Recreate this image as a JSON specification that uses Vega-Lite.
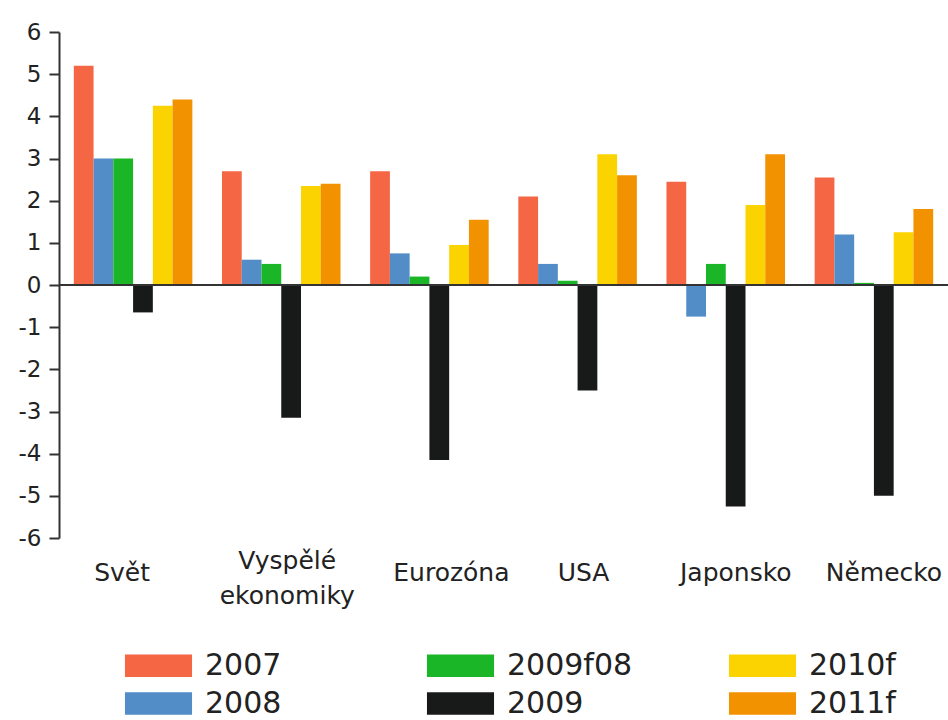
{
  "$schema": "https://vega.github.io/schema/vega-lite/v6.json",
  "width": 889,
  "height": 506,
  "autosize": {"type": "none"},
  "padding": {"left": 59, "top": 32, "right": 0, "bottom": 182},
  "background": "white",
  "config": {"view": {"stroke": null}, "font": "DejaVu Sans"},
  "data": {
    "values": [
      {"region": "Svět", "year": "2007", "value": 5.2},
      {"region": "Svět", "year": "2008", "value": 3.0},
      {"region": "Svět", "year": "2009f08", "value": 3.0},
      {"region": "Svět", "year": "2009", "value": -0.65},
      {"region": "Svět", "year": "2010f", "value": 4.25},
      {"region": "Svět", "year": "2011f", "value": 4.4},
      {"region": "Vyspělé ekonomiky", "year": "2007", "value": 2.7},
      {"region": "Vyspělé ekonomiky", "year": "2008", "value": 0.6},
      {"region": "Vyspělé ekonomiky", "year": "2009f08", "value": 0.5},
      {"region": "Vyspělé ekonomiky", "year": "2009", "value": -3.15},
      {"region": "Vyspělé ekonomiky", "year": "2010f", "value": 2.35},
      {"region": "Vyspělé ekonomiky", "year": "2011f", "value": 2.4},
      {"region": "Eurozóna", "year": "2007", "value": 2.7},
      {"region": "Eurozóna", "year": "2008", "value": 0.75},
      {"region": "Eurozóna", "year": "2009f08", "value": 0.2},
      {"region": "Eurozóna", "year": "2009", "value": -4.15},
      {"region": "Eurozóna", "year": "2010f", "value": 0.95},
      {"region": "Eurozóna", "year": "2011f", "value": 1.55},
      {"region": "USA", "year": "2007", "value": 2.1},
      {"region": "USA", "year": "2008", "value": 0.5},
      {"region": "USA", "year": "2009f08", "value": 0.1},
      {"region": "USA", "year": "2009", "value": -2.5},
      {"region": "USA", "year": "2010f", "value": 3.1},
      {"region": "USA", "year": "2011f", "value": 2.6},
      {"region": "Japonsko", "year": "2007", "value": 2.45},
      {"region": "Japonsko", "year": "2008", "value": -0.75},
      {"region": "Japonsko", "year": "2009f08", "value": 0.5},
      {"region": "Japonsko", "year": "2009", "value": -5.25},
      {"region": "Japonsko", "year": "2010f", "value": 1.9},
      {"region": "Japonsko", "year": "2011f", "value": 3.1},
      {"region": "Německo", "year": "2007", "value": 2.55},
      {"region": "Německo", "year": "2008", "value": 1.2},
      {"region": "Německo", "year": "2009f08", "value": 0.05},
      {"region": "Německo", "year": "2009", "value": -5.0},
      {"region": "Německo", "year": "2010f", "value": 1.25},
      {"region": "Německo", "year": "2011f", "value": 1.8}
    ]
  },
  "layer": [
    {
      "mark": {"type": "bar"},
      "encoding": {
        "x": {
          "field": "region",
          "type": "nominal",
          "sort": ["Svět", "Vyspělé ekonomiky", "Eurozóna", "USA", "Japonsko", "Německo"],
          "scale": {"paddingInner": 0.2, "paddingOuter": 0.1},
          "axis": {
            "title": null,
            "orient": "bottom",
            "domain": false,
            "ticks": false,
            "labelAngle": 0,
            "labelFontSize": 25,
            "labelColor": "#222",
            "labelBaseline": "middle",
            "labelPadding": {"condition": {"test": "datum.value == 'Vyspělé ekonomiky'", "value": 22}, "value": 34},
            "labelOffset": {
              "condition": [
                {"test": "datum.value == 'Svět'", "value": -11},
                {"test": "datum.value == 'Eurozóna'", "value": 22},
                {"test": "datum.value == 'Vyspělé ekonomiky'", "value": 6},
                {"test": "datum.value == 'USA'", "value": 6}
              ],
              "value": 10
            },
            "labelLineHeight": 35,
            "labelLimit": 300,
            "labelExpr": "datum.label == 'Vyspělé ekonomiky' ? ['Vyspělé', 'ekonomiky'] : datum.label"
          }
        },
        "xOffset": {
          "field": "year",
          "type": "nominal",
          "scale": {"domain": ["2007", "2008", "2009f08", "2009", "2010f", "2011f"], "paddingInner": 0, "paddingOuter": 0}
        },
        "y": {
          "field": "value",
          "type": "quantitative",
          "scale": {"domain": [-6, 6], "nice": false, "zero": false},
          "axis": {
            "title": null,
            "values": [-6, -5, -4, -3, -2, -1, 0, 1, 2, 3, 4, 5, 6],
            "grid": false,
            "domainColor": "#333",
            "domainWidth": 2,
            "tickColor": "#333",
            "tickWidth": 2,
            "tickSize": 10,
            "labelFontSize": 23,
            "labelColor": "#222",
            "labelPadding": 8,
            "labelExpr": "datum.value < 0 ? '-' + abs(datum.value) : '' + datum.value"
          }
        },
        "color": {
          "field": "year",
          "type": "nominal",
          "scale": {
            "domain": ["2007", "2008", "2009f08", "2009", "2010f", "2011f"],
            "range": ["#F46644", "#538DC8", "#1BB528", "#181A19", "#FAD300", "#F39200"]
          },
          "legend": {
            "title": null,
            "orient": "none",
            "legendX": 77,
            "legendY": 611,
            "columns": 3,
            "gridAlign": "all",
            "columnPadding": 95,
            "rowPadding": 0,
            "padding": 0,
            "symbolType": "M-1.5,-0.5H1.5V0.5H-1.5Z",
            "symbolSize": 2000,
            "symbolStrokeWidth": 0,
            "symbolOpacity": 1,
            "labelFontSize": 30,
            "labelColor": "#222",
            "labelOffset": 24,
            "labelLimit": 300
          }
        }
      }
    },
    {
      "mark": {"type": "rule", "color": "#333", "strokeWidth": 2},
      "encoding": {"y": {"datum": 0}}
    }
  ]
}
